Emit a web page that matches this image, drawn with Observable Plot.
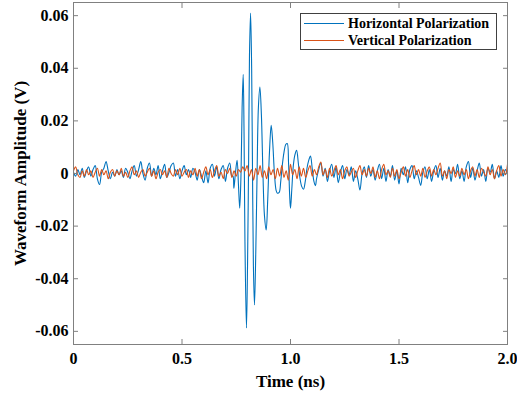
<!DOCTYPE html>
<html><head><meta charset="utf-8">
<script src="https://cdn.jsdelivr.net/npm/d3@7"></script>
<script src="https://cdn.jsdelivr.net/npm/@observablehq/plot@0.6"></script>
<style>
body{margin:0;background:#fff;}
#wrap{position:relative;width:517px;height:393px;}
#legend{position:absolute;left:300px;top:13px;width:195px;height:35px;border:1px solid #404040;background:#fff;font:bold 14px "Liberation Serif",serif;color:#000;}
.row{position:absolute;left:0;height:17px;display:flex;align-items:center;white-space:nowrap;}
.sw{width:40px;height:0;margin-left:3px;margin-right:4px;border-top:1.3px solid;}
</style></head><body><div id="wrap"><div id="legend"></div></div>
<script>
const seriesNames = ["Horizontal Polarization", "Vertical Polarization"];
const seriesColors = ["#0072BD", "#D95319"];
const step = 0.01;

// Horizontal: noise t = 0.00 .. 0.73
const hBefore = [
  0.0005,-0.0010,0.0015,-0.0005,0.0020,-0.0015,0.0010,0.0025,-0.0010,0.0015,
  0.0030,-0.0020,-0.0042,0.0005,0.0020,0.0045,0.0010,-0.0020,0.0005,-0.0010,
  0.0015,-0.0005,0.0010,-0.0015,0.0020,0.0005,-0.0020,0.0010,0.0030,-0.0010,
  0.0015,0.0045,0.0000,-0.0025,0.0020,0.0040,-0.0010,0.0020,-0.0005,0.0030,
  -0.0020,0.0010,0.0035,-0.0015,0.0005,0.0030,0.0040,-0.0010,0.0015,-0.0020,
  0.0010,0.0030,-0.0005,0.0015,-0.0015,0.0020,0.0005,-0.0025,0.0015,-0.0010,
  -0.0035,0.0010,-0.0036,0.0020,0.0035,-0.0010,0.0025,-0.0020,0.0015,0.0030,
  -0.0030,0.0020,0.0040,-0.0010
];
// Horizontal: pulse
const hPulseT = [
  0.735,0.739,0.746,0.754,0.760,0.766,0.772,0.777,0.782,0.786,
  0.790,0.797,0.802,0.807,0.811,0.816,0.821,0.825,0.829,0.834,
  0.840,0.846,0.852,0.859,0.866,0.873,0.880,0.888,0.895,0.903,
  0.911,0.918,0.926,0.934,0.940,0.948,0.955,0.962,0.970,0.978,
  0.985,0.991,0.996,1.000,1.006,1.013,1.020,1.028,1.036,1.044,
  1.052,1.060,1.068,1.076,1.084,1.092,1.100,1.108,1.115,1.120
];
const hPulseV = [
  -0.0010,-0.0056,0.0000,0.0050,-0.0040,-0.0132,0.0000,0.0250,0.0377,0.0150,
  -0.0250,-0.0587,-0.0350,0.0050,0.0450,0.0610,0.0400,0.0000,-0.0350,-0.0500,
  -0.0300,0.0000,0.0250,0.0329,0.0220,0.0000,-0.0160,-0.0215,-0.0100,0.0080,
  0.0183,0.0120,0.0000,-0.0065,-0.0075,-0.0072,-0.0030,0.0030,0.0080,0.0110,
  0.0114,0.0040,-0.0080,-0.0132,-0.0060,0.0030,0.0070,0.0088,0.0040,-0.0020,
  -0.0050,-0.0060,-0.0030,0.0020,0.0050,0.0066,0.0020,-0.0030,-0.0046,-0.0020
];
// Horizontal: noise t = 1.13 .. 2.00
const hAfterStart = 1.13;
const hAfter = [
  0.0015,0.0040,-0.0010,0.0020,-0.0030,0.0010,0.0035,-0.0015,0.0025,-0.0035,
  0.0005,0.0030,-0.0020,0.0015,-0.0005,0.0025,-0.0030,0.0010,-0.0020,-0.0063,
  0.0000,0.0025,-0.0015,0.0030,-0.0010,0.0015,-0.0025,0.0010,0.0035,-0.0020,
  0.0020,-0.0030,0.0015,-0.0010,0.0030,-0.0025,0.0010,-0.0040,0.0020,-0.0005,
  0.0025,-0.0035,0.0015,0.0030,-0.0020,0.0010,-0.0015,-0.0045,0.0005,0.0025,
  -0.0020,0.0015,-0.0030,0.0010,0.0030,-0.0015,0.0020,-0.0025,0.0010,-0.0010,
  0.0025,-0.0030,0.0015,0.0000,0.0035,-0.0020,0.0010,-0.0030,0.0025,0.0045,
  -0.0015,0.0020,-0.0025,0.0010,0.0040,-0.0010,0.0015,-0.0030,0.0020,0.0005,
  0.0035,-0.0020,0.0010,-0.0015,0.0030,-0.0010,0.0015,-0.0005
];
// Vertical: t = 0.00 .. 2.00
const vValues = [
  0.0010,0.0025,-0.0005,-0.0015,0.0010,-0.0010,0.0015,-0.0005,0.0010,-0.0015,
  0.0005,0.0020,-0.0010,0.0015,-0.0005,0.0010,-0.0020,0.0005,0.0015,-0.0010,
  0.0010,-0.0005,0.0020,-0.0010,0.0005,-0.0015,0.0010,0.0025,-0.0005,0.0010,
  -0.0015,0.0005,0.0015,-0.0010,0.0005,0.0020,-0.0010,0.0010,-0.0020,0.0005,
  0.0015,-0.0005,0.0010,-0.0015,0.0020,0.0000,-0.0010,0.0015,-0.0005,0.0020,
  -0.0010,0.0005,0.0015,-0.0015,0.0010,-0.0005,0.0020,-0.0010,0.0015,-0.0020,
  0.0005,0.0025,-0.0005,0.0015,-0.0015,0.0010,0.0030,-0.0010,0.0005,-0.0020,
  0.0015,0.0000,0.0020,-0.0015,0.0010,-0.0010,0.0015,0.0005,0.0025,0.0010,
  0.0030,-0.0010,0.0015,-0.0025,0.0020,-0.0005,0.0030,-0.0015,0.0010,-0.0020,
  0.0025,-0.0005,0.0015,-0.0020,0.0020,-0.0010,0.0030,-0.0015,0.0010,-0.0025,
  0.0035,-0.0005,0.0015,-0.0020,0.0025,-0.0010,0.0020,-0.0015,0.0010,0.0030,
  -0.0010,0.0015,-0.0005,0.0025,0.0044,-0.0005,0.0015,-0.0015,0.0020,-0.0010,
  0.0010,0.0030,-0.0005,0.0015,-0.0020,0.0010,0.0025,-0.0010,0.0005,0.0020,
  -0.0015,0.0010,0.0030,-0.0005,0.0015,-0.0010,0.0020,0.0000,0.0025,-0.0015,
  0.0010,-0.0020,0.0015,0.0035,-0.0005,0.0010,-0.0015,0.0020,-0.0010,0.0015,
  -0.0020,0.0005,0.0025,-0.0010,0.0015,-0.0015,0.0010,0.0030,-0.0005,0.0015,
  -0.0010,0.0020,-0.0015,0.0010,0.0025,-0.0010,0.0015,-0.0005,0.0020,0.0040,
  -0.0010,0.0010,-0.0020,0.0015,0.0000,0.0025,-0.0015,0.0010,-0.0010,0.0020,
  -0.0005,0.0015,-0.0020,0.0010,0.0025,-0.0010,0.0015,-0.0015,0.0020,0.0005,
  -0.0010,0.0025,-0.0005,0.0015,-0.0020,0.0010,0.0030,-0.0010,0.0015,-0.0005,
  0.0035
];
const xTicks = [0, 0.5, 1.0, 1.5, 2.0];
const yTicks = [-0.06, -0.04, -0.02, 0, 0.02, 0.04, 0.06];
const xLabel = "Time (ns)";
const yLabel = "Waveform Amplitude (V)";

const H = [
  ...hBefore.map((v, i) => ({t: +(i * step).toFixed(3), v})),
  ...hPulseT.map((t, i) => ({t, v: hPulseV[i]})),
  ...hAfter.map((v, i) => ({t: +(hAfterStart + i * step).toFixed(3), v}))
];
const V = vValues.map((v, i) => ({t: +(i * step).toFixed(3), v}));

const axisGray = "#808080";
const chart = Plot.plot({
  width: 517, height: 393,
  marginLeft: 73, marginRight: 10, marginTop: 2, marginBottom: 49,
  x: {domain: [0, 2]},
  y: {domain: [-0.065, 0.065]},
  style: {fontFamily: "'Liberation Serif', serif", fontWeight: "bold", fontSize: "16px", color: "#000", background: "#fff"},
  marks: [
    Plot.line(H, {x: "t", y: "v", stroke: seriesColors[0], strokeWidth: 1.1, curve: "catmull-rom"}),
    Plot.line(V, {x: "t", y: "v", stroke: seriesColors[1], strokeWidth: 1.1, curve: "catmull-rom"}),
    Plot.frame({stroke: axisGray}),
    Plot.axisX({ticks: xTicks, tickSize: -5, tickPadding: 13, stroke: axisGray, label: null,
      tickFormat: d => d === 0 ? "0" : d.toFixed(1)}),
    Plot.axisX({anchor: "top", ticks: xTicks, tickSize: -5, stroke: axisGray, label: null, tickFormat: () => ""}),
    Plot.axisY({ticks: yTicks, tickSize: -5, tickPadding: 10, stroke: axisGray, label: null,
      tickFormat: d => d === 0 ? "0" : d.toFixed(2)}),
    Plot.axisY({anchor: "right", ticks: yTicks, tickSize: -5, stroke: axisGray, label: null, tickFormat: () => ""}),
    Plot.text([yLabel], {frameAnchor: "left", textAnchor: "middle", lineAnchor: "middle", rotate: -90, dx: -53, fontSize: 17, fontWeight: "bold"}),
    Plot.text([xLabel], {frameAnchor: "bottom", textAnchor: "middle", lineAnchor: "middle", dy: 37, fontSize: 17, fontWeight: "bold"})
  ]
});
const wrap = document.getElementById("wrap");
wrap.insertBefore(chart, wrap.firstChild);

const legend = document.getElementById("legend");
seriesNames.forEach((name, i) => {
  const row = document.createElement("div");
  row.className = "row";
  row.style.top = (i * 17 + 1) + "px";
  const sw = document.createElement("span");
  sw.className = "sw";
  sw.style.borderTopColor = seriesColors[i];
  const tx = document.createElement("span");
  tx.textContent = name;
  row.appendChild(sw);
  row.appendChild(tx);
  legend.appendChild(row);
});
</script></body></html>
